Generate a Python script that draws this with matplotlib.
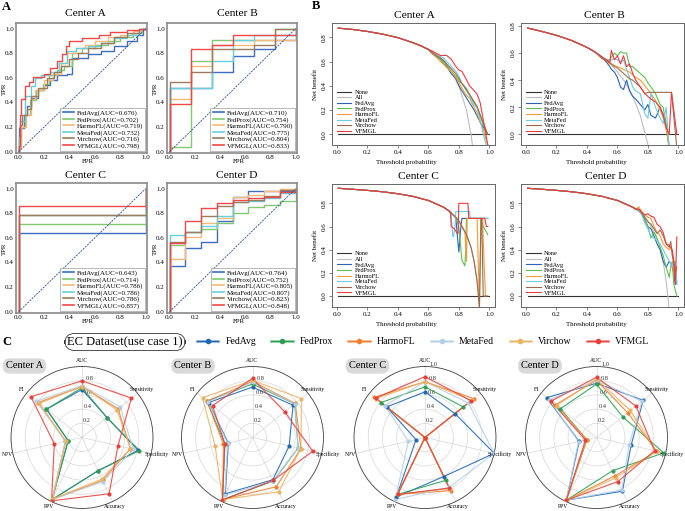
import matplotlib
matplotlib.use('Agg')
import matplotlib.pyplot as plt
import numpy as np
from matplotlib.lines import Line2D

plt.rcParams['font.family'] = ['Liberation Serif', 'DejaVu Serif']

W, H = 685, 511
fig = plt.figure(figsize=(6.85, 5.11), dpi=100)


def rect(l, t, r, b):
    return [l / W, 1 - b / H, (r - l) / W, (b - t) / H]


# ----------------------------------------------------------------- data
methods = ['FedAvg', 'FedProx', 'HarmoFL', 'MetaFed', 'Virchow', 'VFMGL']
centers = ['Center A', 'Center B', 'Center C', 'Center D']

auc_A = [0.676, 0.702, 0.719, 0.732, 0.716, 0.798]
auc_B = [0.710, 0.754, 0.790, 0.775, 0.804, 0.833]
auc_C = [0.643, 0.714, 0.786, 0.786, 0.786, 0.857]
auc_D = [0.764, 0.752, 0.805, 0.807, 0.823, 0.848]

# ROC step curves: (FPR break points, TPR level after each break)
roc_A = {
    'FedAvg': ([0, 0.04, 0.07, 0.1, 0.15, 0.2, 0.25, 0.3, 0.38, 0.42, 0.55, 0.65, 0.75, 0.85, 0.93, 0.98, 1.0],
               [0.19, 0.3, 0.37, 0.44, 0.5, 0.54, 0.58, 0.62, 0.63, 0.76, 0.79, 0.82, 0.86, 0.9, 0.95, 1.0, 1.0]),
    'FedProx': ([0, 0.02, 0.05, 0.09, 0.14, 0.19, 0.24, 0.3, 0.36, 0.42, 0.5, 0.6, 0.7, 0.8, 0.9, 0.97, 1.0],
                [0.1, 0.2, 0.3, 0.42, 0.5, 0.55, 0.62, 0.66, 0.7, 0.8, 0.84, 0.87, 0.9, 0.93, 0.96, 1.0, 1.0]),
    'HarmoFL': ([0, 0.02, 0.06, 0.1, 0.13, 0.2, 0.27, 0.33, 0.38, 0.45, 0.52, 0.6, 0.7, 0.8, 0.9, 0.97, 1.0],
                [0.04, 0.2, 0.3, 0.43, 0.5, 0.58, 0.63, 0.72, 0.8, 0.84, 0.87, 0.9, 0.93, 0.95, 0.98, 1.0, 1.0]),
    'MetaFed': ([0, 0.01, 0.05, 0.1, 0.13, 0.18, 0.25, 0.32, 0.38, 0.45, 0.55, 0.65, 0.75, 0.85, 0.95, 1.0],
                [0.12, 0.25, 0.45, 0.53, 0.6, 0.62, 0.65, 0.72, 0.82, 0.84, 0.86, 0.88, 0.92, 0.95, 1.0, 1.0]),
    'Virchow': ([0, 0.01, 0.03, 0.07, 0.1, 0.15, 0.22, 0.28, 0.33, 0.4, 0.47, 0.55, 0.65, 0.75, 0.85, 0.95, 1.0],
                [0.05, 0.22, 0.3, 0.35, 0.45, 0.52, 0.6, 0.65, 0.7, 0.75, 0.8, 0.84, 0.88, 0.93, 0.96, 1.0, 1.0]),
    'VFMGL': ([0, 0.01, 0.02, 0.05, 0.08, 0.11, 0.2, 0.25, 0.3, 0.34, 0.37, 0.4, 0.5, 0.63, 0.72, 0.85, 0.95, 1.0],
              [0.05, 0.3, 0.43, 0.53, 0.57, 0.61, 0.63, 0.68, 0.74, 0.79, 0.86, 0.9, 0.92, 0.95, 0.97, 0.99, 1.0, 1.0]),
}
fpr_B = [0, 0.167, 0.333, 0.5, 0.667, 0.833, 1.0]
roc_B = {
    'FedAvg': (fpr_B, [0.52, 0.52, 0.65, 0.78, 0.83, 0.91, 1.0]),
    'FedProx': (fpr_B, [0.04, 0.74, 0.91, 0.91, 0.91, 1.0, 1.0]),
    'HarmoFL': (fpr_B, [0.43, 0.70, 0.87, 0.87, 0.91, 0.91, 1.0]),
    'MetaFed': (fpr_B, [0.52, 0.52, 0.74, 0.91, 0.95, 0.95, 1.0]),
    'Virchow': (fpr_B, [0.57, 0.65, 0.83, 0.83, 0.87, 1.0, 1.0]),
    'VFMGL': (fpr_B, [0.39, 0.83, 0.87, 0.95, 0.95, 0.95, 1.0]),
}
roc_C = {
    'FedAvg': ([0, 1.0], [0.643, 1.0]),
    'FedProx': ([0, 1.0], [0.714, 1.0]),
    'HarmoFL': ([0, 1.0], [0.786, 1.0]),
    'MetaFed': ([0, 1.0], [0.786, 1.0]),
    'Virchow': ([0, 1.0], [0.786, 1.0]),
    'VFMGL': ([0, 1.0], [0.857, 1.0]),
}
fpr_D = [0, 0.125, 0.25, 0.375, 0.5, 0.625, 0.75, 0.875, 1.0]
roc_D = {
    'FedAvg': (fpr_D, [0.37, 0.52, 0.57, 0.74, 0.93, 0.98, 0.98, 0.98, 1.0]),
    'FedProx': (fpr_D, [0.54, 0.65, 0.67, 0.72, 0.80, 0.85, 0.87, 0.90, 1.0]),
    'HarmoFL': (fpr_D, [0.43, 0.61, 0.72, 0.76, 0.93, 0.95, 0.98, 1.0, 1.0]),
    'MetaFed': (fpr_D, [0.62, 0.65, 0.70, 0.78, 0.89, 0.90, 0.92, 0.96, 1.0]),
    'Virchow': (fpr_D, [0.57, 0.65, 0.78, 0.86, 0.89, 0.91, 0.94, 0.99, 1.0]),
    'VFMGL': (fpr_D, [0.56, 0.74, 0.84, 0.88, 0.91, 0.92, 0.93, 0.97, 1.0]),
}

# Decision curves
none_t = [0.01, 1.0]
none_nb = [0.0, 0.0]

dcaA_all_t = [0.01, 0.1, 0.2, 0.3, 0.4, 0.5, 0.55, 0.6, 0.65, 0.7, 0.75, 0.8, 0.85, 0.88, 0.9]
dcaA_all_nb = [0.875, 0.865, 0.848, 0.826, 0.797, 0.755, 0.73, 0.70, 0.66, 0.60, 0.52, 0.40, 0.20, 0.0, -0.2]
dcaA_head = 8
dcaA_t = [0.62, 0.65, 0.68, 0.7, 0.72, 0.75, 0.78, 0.8, 0.82, 0.85, 0.87, 0.9, 0.92, 0.94, 0.96, 0.98, 0.99]
dcaA = {
    'FedAvg': [0.67, 0.64, 0.62, 0.58, 0.56, 0.50, 0.46, 0.40, 0.36, 0.30, 0.26, 0.20, 0.15, 0.10, 0.06, 0.02, 0.0],
    'FedProx': [0.68, 0.65, 0.62, 0.60, 0.57, 0.52, 0.48, 0.44, 0.42, 0.36, 0.32, 0.26, 0.22, 0.15, 0.08, 0.02, 0.0],
    'HarmoFL': [0.67, 0.64, 0.60, 0.58, 0.55, 0.52, 0.47, 0.43, 0.38, 0.32, 0.30, 0.22, 0.18, 0.10, 0.04, -0.05, -0.09],
    'MetaFed': [0.68, 0.66, 0.64, 0.63, 0.60, 0.56, 0.52, 0.48, 0.42, 0.38, 0.32, 0.24, 0.22, 0.12, 0.0, -0.09, -0.09],
    'Virchow': [0.68, 0.65, 0.63, 0.61, 0.58, 0.54, 0.50, 0.46, 0.42, 0.37, 0.33, 0.27, 0.23, 0.16, 0.10, 0.03, 0.0],
    'VFMGL': [0.69, 0.67, 0.65, 0.65, 0.65, 0.62, 0.56, 0.53, 0.52, 0.45, 0.40, 0.36, 0.33, 0.26, 0.12, -0.02, -0.09],
}

dcaB_all_t = [0.01, 0.1, 0.2, 0.3, 0.4, 0.45, 0.5, 0.55, 0.6, 0.65, 0.7, 0.75, 0.8, 0.82]
dcaB_all_nb = [0.785, 0.761, 0.731, 0.693, 0.642, 0.61, 0.57, 0.525, 0.462, 0.385, 0.283, 0.14, -0.075, -0.2]
dcaB_head = 6
dcaB_t = [0.5, 0.53, 0.55, 0.56, 0.58, 0.6, 0.62, 0.64, 0.66, 0.68, 0.7, 0.72, 0.75, 0.78, 0.8, 0.82, 0.85,
          0.88, 0.9, 0.92, 0.94, 0.955, 0.99]
dcaB = {
    'FedAvg': [0.57, 0.53, 0.50, 0.48, 0.46, 0.42, 0.35, 0.33, 0.40, 0.32, 0.28, 0.26, 0.22, 0.18, 0.22, 0.14,
               0.12, 0.20, 0.14, 0.05, -0.1, -0.1, -0.1],
    'FedProx': [0.57, 0.55, 0.55, 0.57, 0.60, 0.58, 0.61, 0.60, 0.60, 0.50, 0.50, 0.48, 0.45, 0.42, 0.38, 0.35,
                0.30, 0.22, 0.20, 0.08, -0.1, -0.1, -0.1],
    'HarmoFL': [0.56, 0.54, 0.52, 0.52, 0.51, 0.50, 0.49, 0.48, 0.47, 0.46, 0.44, 0.42, 0.40, 0.36, 0.33, 0.30,
                0.25, 0.18, 0.12, 0.04, -0.1, -0.1, -0.1],
    'MetaFed': [0.57, 0.55, 0.54, 0.55, 0.56, 0.55, 0.53, 0.55, 0.48, 0.42, 0.35, 0.32, 0.30, 0.15, 0.12, 0.30,
                0.20, 0.12, 0.08, 0.20, -0.1, -0.1, -0.1],
    'Virchow': [0.56, 0.54, 0.53, 0.52, 0.50, 0.49, 0.47, 0.45, 0.43, 0.41, 0.40, 0.38, 0.35, 0.30, 0.31, 0.31,
                0.31, 0.31, 0.31, 0.31, 0.31, 0.31, -0.1],
    'VFMGL': [0.57, 0.55, 0.53, 0.62, 0.55, 0.58, 0.52, 0.58, 0.50, 0.52, 0.45, 0.40, 0.35, 0.30, 0.28, 0.26,
              0.24, 0.20, 0.15, 0.05, 0.0, 0.31, 0.0],
}

dcaC_all_t = [0.01, 0.1, 0.2, 0.3, 0.4, 0.5, 0.6, 0.7, 0.74, 0.78, 0.8, 0.85, 0.88, 0.9, 0.92, 0.93, 0.94]
dcaC_all_nb = [0.93, 0.922, 0.912, 0.90, 0.883, 0.86, 0.825, 0.767, 0.73, 0.68, 0.65, 0.53, 0.42, 0.30, 0.125,
               0.0, -0.16]
dcaC_head = 9
dcaC = {
    'FedAvg': ([0.78, 0.795, 0.80, 0.81, 0.82, 0.99], [0.68, 0.45, 0.38, 0.55, 0.67, 0.67]),
    'FedProx': ([0.78, 0.80, 0.82, 0.84, 0.845, 0.85, 0.95, 0.96, 0.99],
                [0.68, 0.60, 0.31, 0.26, 0.40, 0.67, 0.67, 0.60, 0.53]),
    'HarmoFL': ([0.80, 0.84, 0.85, 0.855, 0.92, 0.935, 0.945, 0.955, 0.965, 0.975],
                [0.65, 0.55, 0.30, 0.67, 0.67, -0.1, 0.67, 0.67, 0.30, 0.0]),
    'MetaFed': ([0.75, 0.76, 0.765, 0.775, 0.78, 0.87, 0.875, 0.99],
                [0.70, 0.52, 0.51, 0.60, 0.73, 0.73, 0.67, 0.67]),
    'Virchow': ([0.80, 0.85, 0.88, 0.90, 0.92, 0.935, 0.945, 0.95, 0.96, 0.99],
                [0.65, 0.53, 0.42, 0.30, 0.12, -0.1, 0.67, 0.67, 0.0, 0.0]),
    'VFMGL': ([0.745, 0.75, 0.77, 0.79, 0.795, 0.80, 0.86, 0.865, 0.97, 0.98, 0.99],
              [0.72, 0.60, 0.58, 0.54, 0.54, 0.80, 0.80, 0.67, 0.67, 0.60, 0.60]),
}

dcaD_all_t = [0.01, 0.1, 0.2, 0.3, 0.4, 0.5, 0.6, 0.7, 0.72, 0.75, 0.8, 0.85, 0.88, 0.9, 0.92, 0.935, 0.94]
dcaD_all_nb = [0.93, 0.922, 0.912, 0.90, 0.883, 0.86, 0.825, 0.767, 0.75, 0.72, 0.65, 0.53, 0.42, 0.30,
               0.125, -0.05, -0.16]
dcaD_head = 9
dcaD_t = [0.74, 0.76, 0.78, 0.8, 0.82, 0.84, 0.86, 0.88, 0.9, 0.92, 0.94, 0.95, 0.96, 0.97, 0.98, 0.99]
dcaD = {
    'FedAvg': [0.74, 0.71, 0.66, 0.60, 0.58, 0.52, 0.45, 0.40, 0.30, 0.25, 0.30, 0.28, 0.25, 0.20, 0.10, 0.12],
    'FedProx': [0.74, 0.71, 0.65, 0.60, 0.50, 0.55, 0.50, 0.42, 0.35, 0.25, 0.16, 0.25, 0.30, 0.10, 0.05, 0.0],
    'HarmoFL': [0.77, 0.73, 0.70, 0.68, 0.67, 0.60, 0.55, 0.52, 0.45, 0.42, 0.40, 0.42, 0.38, 0.20, 0.30, 0.12],
    'MetaFed': [0.74, 0.70, 0.63, 0.58, 0.52, 0.50, 0.48, 0.45, 0.40, 0.35, 0.30, 0.28, 0.25, 0.30, 0.30, 0.10],
    'Virchow': [0.75, 0.72, 0.68, 0.64, 0.62, 0.58, 0.54, 0.57, 0.52, 0.45, 0.42, 0.47, 0.35, 0.30, 0.20, 0.25],
    'VFMGL': [0.75, 0.72, 0.70, 0.71, 0.69, 0.68, 0.62, 0.60, 0.55, 0.45, 0.44, 0.42, 0.40, 0.30, 0.10, 0.51],
}

# Radar metrics
radar_axes = ['AUC', 'Sensitivity', 'Specificity', 'Accuracy', 'PPV', 'NPV', 'F1']
radar_A = {
    'FedAvg': [0.676, 0.45, 0.81, 0.52, 0.97, 0.20, 0.64],
    'FedProx': [0.702, 0.45, 0.83, 0.52, 0.97, 0.20, 0.64],
    'HarmoFL': [0.719, 0.65, 0.70, 0.67, 0.97, 0.24, 0.79],
    'MetaFed': [0.732, 0.69, 0.74, 0.69, 0.97, 0.24, 0.82],
    'Virchow': [0.716, 0.63, 0.70, 0.65, 0.96, 0.23, 0.77],
    'VFMGL': [0.798, 0.89, 0.52, 0.88, 0.99, 0.40, 0.92],
}
radar_B = {
    'FedAvg': [0.710, 0.73, 0.53, 0.66, 0.88, 0.35, 0.79],
    'FedProx': [0.754, 0.76, 0.66, 0.68, 0.97, 0.40, 0.82],
    'HarmoFL': [0.790, 0.77, 0.70, 0.77, 0.97, 0.42, 0.82],
    'MetaFed': [0.775, 0.76, 0.66, 0.68, 0.90, 0.36, 0.80],
    'Virchow': [0.804, 0.88, 0.70, 0.85, 0.97, 0.54, 0.90],
    'VFMGL': [0.833, 0.58, 0.87, 0.67, 0.98, 0.40, 0.72],
}
radar_C = {
    'FedAvg': [0.643, 0.54, 1.00, 0.61, 0.93, 0.13, 0.69],
    'FedProx': [0.714, 0.69, 0.00, 0.67, 0.89, 0.00, 0.79],
    'HarmoFL': [0.786, 0.88, 0.00, 0.83, 0.89, 0.00, 0.91],
    'MetaFed': [0.786, 0.78, 1.00, 0.78, 0.97, 0.24, 0.72],
    'Virchow': [0.786, 0.84, 0.00, 0.80, 0.89, 0.00, 0.88],
    'VFMGL': [0.857, 0.83, 0.00, 0.79, 0.89, 0.00, 0.89],
}
radar_D = {
    'FedAvg': [0.764, 0.84, 0.50, 0.84, 0.98, 0.25, 0.90],
    'FedProx': [0.752, 0.47, 0.97, 0.52, 0.98, 0.14, 0.65],
    'HarmoFL': [0.805, 0.56, 0.87, 0.60, 0.98, 0.14, 0.74],
    'MetaFed': [0.807, 0.82, 0.47, 0.82, 0.98, 0.26, 0.85],
    'Virchow': [0.823, 0.61, 0.87, 0.63, 0.98, 0.15, 0.72],
    'VFMGL': [0.848, 0.71, 0.84, 0.69, 0.98, 0.16, 0.82],
}

roc_colors = ['#3f6dbf', '#82c872', '#f9b878', '#66cfd9', '#9c7b5e', '#f04848']
dca_colors = ['#2c63b5', '#5cbf4f', '#f59a36', '#6ccbe6', '#9a6b4b', '#ea3b42']
radar_colors = ['#2367ae', '#2f9e55', '#f07e2f', '#b4cfe8', '#e9b462', '#e5413d']

# ----------------------------------------------------------------- panel letters
fig.text(2 / W, 1 - 7 / H, 'A', fontsize=9, fontweight='bold', va='center')
fig.text(312 / W, 1 - 6 / H, 'B', fontsize=9, fontweight='bold', va='center')
fig.text(2 / W, 1 - 342 / H, 'C', fontsize=9, fontweight='bold', va='center')

# ----------------------------------------------------------------- ROC panels
roc_panels = [
    ((16, 23, 147, 153), roc_A, auc_A, (85, 14)),
    ((167, 23, 297, 153), roc_B, auc_B, (237, 14)),
    ((16, 183, 147, 313), roc_C, auc_C, (85, 176)),
    ((167, 183, 297, 313), roc_D, auc_D, (237, 176)),
]
for (box, data, aucs, tpos), cname in zip(roc_panels, centers):
    ax = fig.add_axes(rect(*box))
    handles = []
    for m, c, a in zip(methods, roc_colors, aucs):
        fpr, tpr = data[m]
        ax.step([0] + fpr, [0] + tpr, where='post', color=c, lw=1.0)
        handles.append(Line2D([], [], color=c, lw=1.2, label=f'{m}(AUC={a:.3f})'))
    ax.plot([0, 1], [0, 1], color='#2b4f9a', lw=0.6, ls=(0, (2.5, 1.2)))
    ax.set_xlim(-0.02, 1.01)
    ax.set_ylim(-0.01, 1.045)
    ax.set_xticks([0, 0.2, 0.4, 0.6, 0.8, 1.0])
    ax.set_yticks([0, 0.2, 0.4, 0.6, 0.8, 1.0])
    ax.tick_params(labelsize=5, length=0, pad=1.5)
    for s in ax.spines.values():
        s.set_color('#8a8a8a')
        s.set_linewidth(1.2)
    ax.text(-0.09, 0.49, 'TPR', transform=ax.transAxes, rotation=90, fontsize=5,
            ha='center', va='center')
    ax.text(0.55, -0.062, 'FPR', transform=ax.transAxes, fontsize=5, ha='center', va='center')
    leg = ax.legend(handles=handles, loc='lower right', fontsize=5, frameon=True, fancybox=False,
                    edgecolor='#999999', borderpad=0.3, labelspacing=0.05, handlelength=1.6,
                    handletextpad=0.4, borderaxespad=0.3)
    leg.get_frame().set_linewidth(0.6)
    fig.text(tpos[0] / W, 1 - tpos[1] / H, cname, fontsize=8.2, ha='center', va='center')

# ----------------------------------------------------------------- DCA panels
def model_curve(all_t, all_nb, head, t, nb):
    return list(all_t[:head]) + list(t), list(all_nb[:head]) + list(nb)


dca_panels = [
    ((331.7, 23.3, 495, 145), (-0.088, 0.915), dcaA_all_t, dcaA_all_nb, dcaA_head,
     {m: (dcaA_t, dcaA[m]) for m in methods}, (414, 15.5)),
    ((521, 23.3, 684, 145), (-0.079, 0.82), dcaB_all_t, dcaB_all_nb, dcaB_head,
     {m: (dcaB_t, dcaB[m]) for m in methods}, (604, 15.5)),
    ((331.7, 184, 495, 306.7), (-0.092, 0.967), dcaC_all_t, dcaC_all_nb, dcaC_head,
     dcaC, (418, 176.5)),
    ((521, 184, 684, 306.7), (-0.092, 0.967), dcaD_all_t, dcaD_all_nb, dcaD_head,
     {m: (dcaD_t, dcaD[m]) for m in methods}, (606, 176.5)),
]
for (box, ylim, at, anb, head, models, tpos), cname in zip(dca_panels, centers):
    ax = fig.add_axes(rect(*box))
    hs = []
    hs.append(ax.plot(none_t, none_nb, color='#333333', lw=0.8, label='None')[0])
    hs.append(ax.plot(at, anb, color='#bdbdbd', lw=0.8, label='All')[0])
    for m, c in zip(methods, dca_colors):
        t, nb = models[m]
        xx, yy = model_curve(at, anb, head, t, nb)
        hs.append(ax.plot(xx, yy, color=c, lw=0.8, label=m)[0])
    ax.set_xlim(-0.033, 1.037)
    ax.set_ylim(*ylim)
    ax.set_xticks([0, 0.2, 0.4, 0.6, 0.8, 1.0])
    ax.set_yticks([0, 0.2, 0.4, 0.6, 0.8])
    ax.set_xticklabels(['0.0', '0.2', '0.4', '0.6', '0.8', '1.0'])
    ax.set_yticklabels(['0.0', '0.2', '0.4', '0.6', '0.8'], rotation=90, va='center')
    ax.tick_params(labelsize=5, length=2, width=0.5, pad=1.5, color='#555555')
    for s in ax.spines.values():
        s.set_color('#666666')
        s.set_linewidth(0.7)
    ax.text(-0.10, 0.5, 'Net benefit', transform=ax.transAxes, rotation=90, fontsize=5,
            ha='center', va='center')
    ax.text(0.46, -0.145, 'Threshold probability', transform=ax.transAxes, fontsize=5,
            ha='center', va='center')
    ax.legend(handles=hs, loc='lower left', bbox_to_anchor=(0.03, 0.09), fontsize=4.6,
              frameon=False, labelspacing=0.02, handlelength=2.3, handletextpad=0.5,
              borderpad=0, borderaxespad=0)
    fig.text(tpos[0] / W, 1 - tpos[1] / H, cname, fontsize=8.2, ha='center', va='center')

# ----------------------------------------------------------------- radar panels
theta = np.arange(7) * 2 * np.pi / 7
radar_panels = [
    ((82, 437.5), radar_A, False, (24.5, 366)),
    ((252.5, 437.5), radar_B, False, (193, 366)),
    ((425, 437.5), radar_C, True, (367.5, 366)),
    ((596.5, 437.5), radar_D, True, (540, 366)),
]
R = 71
for ((cx, cy), data, show1, lpos), cname in zip(radar_panels, centers):
    ax = fig.add_axes(rect(cx - R, cy - R, cx + R, cy + R), projection='polar')
    ax.set_theta_offset(np.pi / 2)
    ax.set_theta_direction(-1)
    ax.set_ylim(0, 1.0)
    ax.set_xticks(theta)
    ax.set_xticklabels([])
    ax.set_yticks([0.2, 0.4, 0.6, 0.8, 1.0])
    ax.set_yticklabels(['0.2', '0.4', '0.6', '0.8', '1.0' if show1 else ''], fontsize=4.6,
                       color='#333333')
    ax.set_rlabel_position(4)
    ax.tick_params(axis='y', pad=0)
    ax.grid(color='#d6d6d6', lw=0.5)
    ax.spines['polar'].set_color('#444444')
    ax.spines['polar'].set_linewidth(0.6)
    ax.set_facecolor('none')
    tc = np.append(theta, theta[0])
    for m, c in zip(methods, radar_colors):
        v = data[m]
        vc = list(v) + [v[0]]
        ax.plot(tc, vc, color=c, lw=0.8, alpha=0.9, zorder=3)
        ax.plot(theta, v, 'o', color=c, ms=2.0, zorder=4)
    for th, lab in zip(theta, radar_axes):
        ax.text(th, 1.08, lab, fontsize=4.1, ha='center', va='center', clip_on=False)
    fig.text(lpos[0] / W, 1 - lpos[1] / H, cname, fontsize=7.5, ha='center', va='center',
             bbox=dict(boxstyle='round,pad=0.3,rounding_size=0.7', fc='#d9d9d9', ec='none'))

# ----------------------------------------------------------------- radar legend row
fig.text(125 / W, 1 - 342 / H, 'EC Dataset(use case 1)', fontsize=9, ha='center', va='center',
         bbox=dict(boxstyle='round,pad=0.2,rounding_size=0.8', fc='white', ec='#333333', lw=0.6))
leg_handles = []
for m, c in zip(methods, radar_colors):
    leg_handles.append((Line2D([], [], color=c, lw=2.2, alpha=0.45),
                        Line2D([], [], color=c, lw=0.8, marker='o', ms=3)))
fig.legend(leg_handles, methods, loc='center left', bbox_to_anchor=(197 / W, 1 - 342 / H),
           ncol=6, fontsize=7, frameon=False, handlelength=2.2, handletextpad=0.7,
           columnspacing=1.6, borderpad=0, borderaxespad=0)

fig.savefig('out.png', dpi=100)
